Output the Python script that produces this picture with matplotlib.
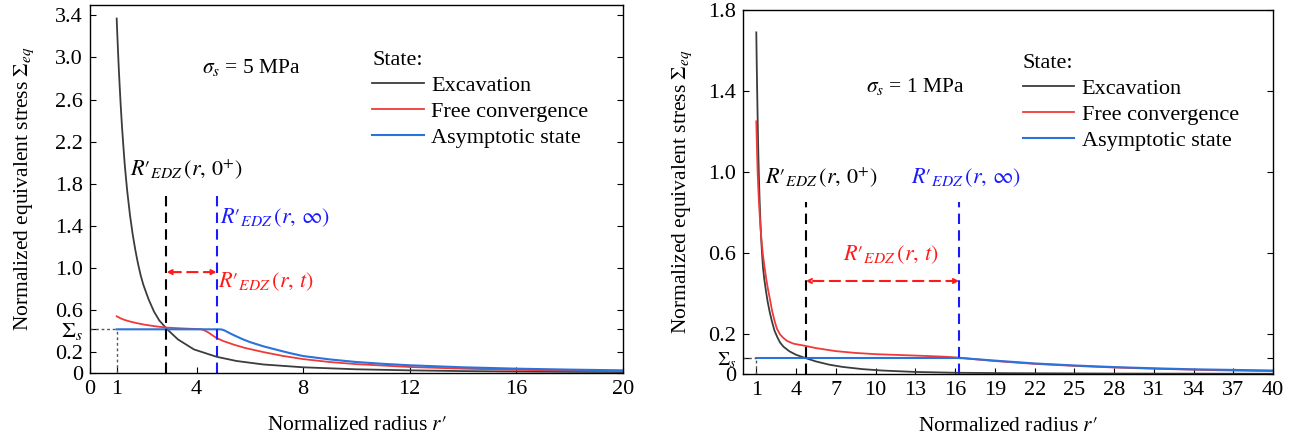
import matplotlib
matplotlib.use("Agg")
import matplotlib.pyplot as plt

plt.rcParams["font.family"] = ["Liberation Serif", "DejaVu Serif"]
plt.rcParams["mathtext.fontset"] = "stix"
plt.rcParams["font.size"] = 15

# ---- left panel: sigma_s = 5 MPa ----
exc_r_5 = [1, 1.02, 1.05, 1.08, 1.11, 1.15, 1.2, 1.25, 1.3, 1.35, 1.4, 1.5,
           1.6, 1.7, 1.8, 1.9, 2.0, 2.2, 2.4, 2.6, 2.9, 3.3, 3.9, 4.75, 5.5,
           6.5, 8, 10, 12, 14, 16, 18, 20]
exc_v_5 = [3.37, 3.24, 3.06, 2.89, 2.74, 2.55, 2.34, 2.16, 1.99, 1.85, 1.72,
           1.5, 1.32, 1.17, 1.04, 0.93, 0.84, 0.7, 0.585, 0.5, 0.415, 0.32,
           0.225, 0.155, 0.115, 0.082, 0.055, 0.036, 0.026, 0.019, 0.015,
           0.012, 0.01]
free_r_5 = [1, 1.15, 1.3, 1.5, 1.75, 2.05, 2.5, 2.9, 3.5, 4.0, 4.2, 4.3, 4.45,
            4.6, 4.75, 5.0, 5.4, 5.8, 6.5, 7.2, 8, 9, 10, 12, 14, 16, 18, 20]
free_v_5 = [0.54, 0.52, 0.505, 0.49, 0.475, 0.46, 0.443, 0.432, 0.424, 0.419,
            0.416, 0.405, 0.385, 0.358, 0.333, 0.305, 0.27, 0.24, 0.2, 0.165,
            0.133, 0.105, 0.085, 0.058, 0.042, 0.031, 0.024, 0.019]
asym_r_5 = [1, 4.85, 4.95, 5.05, 5.2, 5.4, 5.7, 6.0, 6.5, 7, 7.5, 8, 9, 10,
            11, 12, 14, 16, 18, 20]
asym_v_5 = [0.416, 0.416, 0.414, 0.405, 0.385, 0.36, 0.325, 0.295, 0.255,
            0.222, 0.19, 0.162, 0.13, 0.105, 0.088, 0.074, 0.055, 0.042,
            0.033, 0.026]
sigma_s_5 = 0.416
edz0_5, edzinf_5, edz_top_5, arrow_y_5 = 2.87, 4.75, 1.68, 0.96

# ---- right panel: sigma_s = 1 MPa ----
exc_r_1 = [1, 1.03, 1.06, 1.1, 1.15, 1.2, 1.25, 1.3, 1.36, 1.43, 1.5, 1.6,
           1.73, 1.85, 2.0, 2.18, 2.37, 2.6, 2.8, 3.05, 3.5, 4.0, 4.7, 5.5,
           6.5, 7.5, 9, 10.5, 13, 16, 20, 28, 40]
exc_v_1 = [1.69, 1.55, 1.42, 1.27, 1.1, 0.97, 0.86, 0.77, 0.68, 0.6, 0.53,
           0.47, 0.41, 0.36, 0.31, 0.26, 0.215, 0.18, 0.155, 0.135, 0.112,
           0.095, 0.079, 0.062, 0.046, 0.035, 0.024, 0.017, 0.01, 0.006,
           0.004, 0.002, 0.001]
free_r_1 = [1, 1.03, 1.06, 1.1, 1.15, 1.2, 1.3, 1.4, 1.5, 1.6, 1.75, 1.88,
            2.0, 2.2, 2.39, 2.55, 2.8, 3.05, 3.33, 3.8, 4.7, 5.5, 7, 8.5, 10,
            13, 15, 16.3, 17, 19, 22, 25, 28, 31, 34, 37, 40]
free_v_1 = [1.25, 1.17, 1.09, 1.0, 0.92, 0.85, 0.74, 0.655, 0.59, 0.54, 0.47,
            0.42, 0.38, 0.31, 0.26, 0.225, 0.195, 0.178, 0.163, 0.15, 0.139,
            0.128, 0.113, 0.104, 0.098, 0.091, 0.086, 0.081, 0.076, 0.064,
            0.05, 0.04, 0.032, 0.026, 0.021, 0.017, 0.014]
asym_r_1 = [1, 16.1, 16.6, 17.2, 18, 19, 20.5, 22, 25, 28, 31, 34, 37, 40]
asym_v_1 = [0.079, 0.079, 0.078, 0.075, 0.071, 0.066, 0.059, 0.052, 0.042,
            0.034, 0.028, 0.023, 0.02, 0.017]
sigma_s_1 = 0.079
edz0_1, edzinf_1, edz_top_1, arrow_y_1 = 4.73, 16.3, 0.85, 0.46

c_exc, c_free, c_asym = "#3c3c3c", "#f03a3a", "#2a72dc"
c_blue_txt, c_red_txt = "#1a1aff", "#ff1a1a"

R_EDZ = r"$R\prime_{EDZ}\,(r,\,%s)$"


def draw_panel(ax, exc, free, asym, sig, edz0, edzinf, top, arrow_y,
               xlim, ylim, xticks, yticks, ytick_labels, texts, legend_xy,
               ylabel_pad, sig_size):
    ax.plot(*exc, color=c_exc, lw=1.3, label="Excavation")
    ax.plot(*free, color=c_free, lw=1.3, label="Free convergence")
    ax.plot(*asym, color=c_asym, lw=1.5, label="Asymptotic state")

    ax.plot([xlim[0], 1], [sig, sig], color="#555555", lw=1, ls=(0, (2, 2)))
    ax.plot([1, 1], [0, sig], color="#555555", lw=1, ls=(0, (2, 2)))
    ax.plot([edz0, edz0], [0, top], color="black", lw=1.5, ls=(0, (5, 3)))
    ax.plot([edzinf, edzinf], [0, top], color=c_blue_txt, lw=1.5,
            ls=(0, (5, 3)))
    ax.annotate("", xy=(edz0, arrow_y), xytext=(edzinf, arrow_y),
                arrowprops=dict(arrowstyle="<->", color=c_red_txt, lw=1.5,
                                ls=(0, (5, 3)), shrinkA=0, shrinkB=0,
                                mutation_scale=7))

    (sx, sy, slab), (ax0, ay0), (axi, ayi), (axt, ayt) = texts
    ax.text(sx, sy, slab, ha="left", va="center", fontsize=15.5)
    ax.text(ax0, ay0, R_EDZ % "0^{+}", ha="left", va="center", fontsize=16)
    ax.text(axi, ayi, R_EDZ % r"\infty", ha="left", va="center",
            fontsize=16, color=c_blue_txt)
    ax.text(axt, ayt, R_EDZ % "t", ha="left", va="center",
            fontsize=16, color=c_red_txt)

    ax.set_xlim(*xlim)
    ax.set_ylim(*ylim)
    ax.set_xticks(xticks)
    ax.set_yticks(yticks)
    ax.set_yticklabels(ytick_labels)
    ax.tick_params(direction="in", length=4, right=True, top=False,
                   labelsize=16, pad=5)
    for lab in ax.get_yticklabels():
        if "Sigma" in lab.get_text():
            lab.set_fontsize(sig_size)
    ax.set_xlabel(r"Normalized radius $r\prime$", fontsize=15.5, labelpad=12)
    ax.set_ylabel(r"Normalized equivalent stress $\mathit{\Sigma}_{eq}$",
                  fontsize=15.5, labelpad=ylabel_pad)
    for sp in ax.spines.values():
        sp.set_linewidth(1.0)

    ax.legend(title="State:", loc="upper left",
              bbox_to_anchor=legend_xy, frameon=False, fontsize=16,
              title_fontsize=16, alignment="left", borderpad=0,
              borderaxespad=0, handlelength=2.3, handletextpad=0.35,
              labelspacing=0.25)


fig = plt.figure(figsize=(12.9, 4.41), dpi=100)
ax1 = fig.add_axes([0.0698, 0.154, 0.413, 0.835])
ax2 = fig.add_axes([0.576, 0.152, 0.411, 0.825])

sig_lab = r"$\mathit{\Sigma}_s$"
draw_panel(
    ax1, (exc_r_5, exc_v_5), (free_r_5, free_v_5), (asym_r_5, asym_v_5),
    sigma_s_5, edz0_5, edzinf_5, edz_top_5, arrow_y_5,
    (0, 20), (0, 3.5), [0, 1, 4, 8, 12, 16, 20],
    [0, 0.2, sigma_s_5, 0.6, 1.0, 1.4, 1.8, 2.2, 2.6, 3.0, 3.4],
    ["0", "0.2", sig_lab, "0.6", "1.0", "1.4", "1.8", "2.2", "2.6", "3.0",
     "3.4"],
    [(4.2, 2.9, r"$\sigma_s$ = 5 MPa"), (1.5, 1.93), (4.88, 1.48),
     (4.8, 0.87)],
    (0.53, 0.875),
    14,
    16,
)
draw_panel(
    ax2, (exc_r_1, exc_v_1), (free_r_1, free_v_1), (asym_r_1, asym_v_1),
    sigma_s_1, edz0_1, edzinf_1, edz_top_1, arrow_y_1,
    (0, 40), (0, 1.8), [1, 4, 7, 10, 13, 16, 19, 22, 25, 28, 31, 34, 37, 40],
    [0, sigma_s_1, 0.2, 0.6, 1.0, 1.4, 1.8],
    ["0", sig_lab, "0.2", "0.6", "1.0", "1.4", "1.8"],
    [(9.3, 1.42, r"$\sigma_s$ = 1 MPa"), (1.66, 0.97), (12.7, 0.97),
     (7.55, 0.59)],
    (0.528, 0.88),
    10,
    14,
)

fig.savefig("out.png", dpi=100)
